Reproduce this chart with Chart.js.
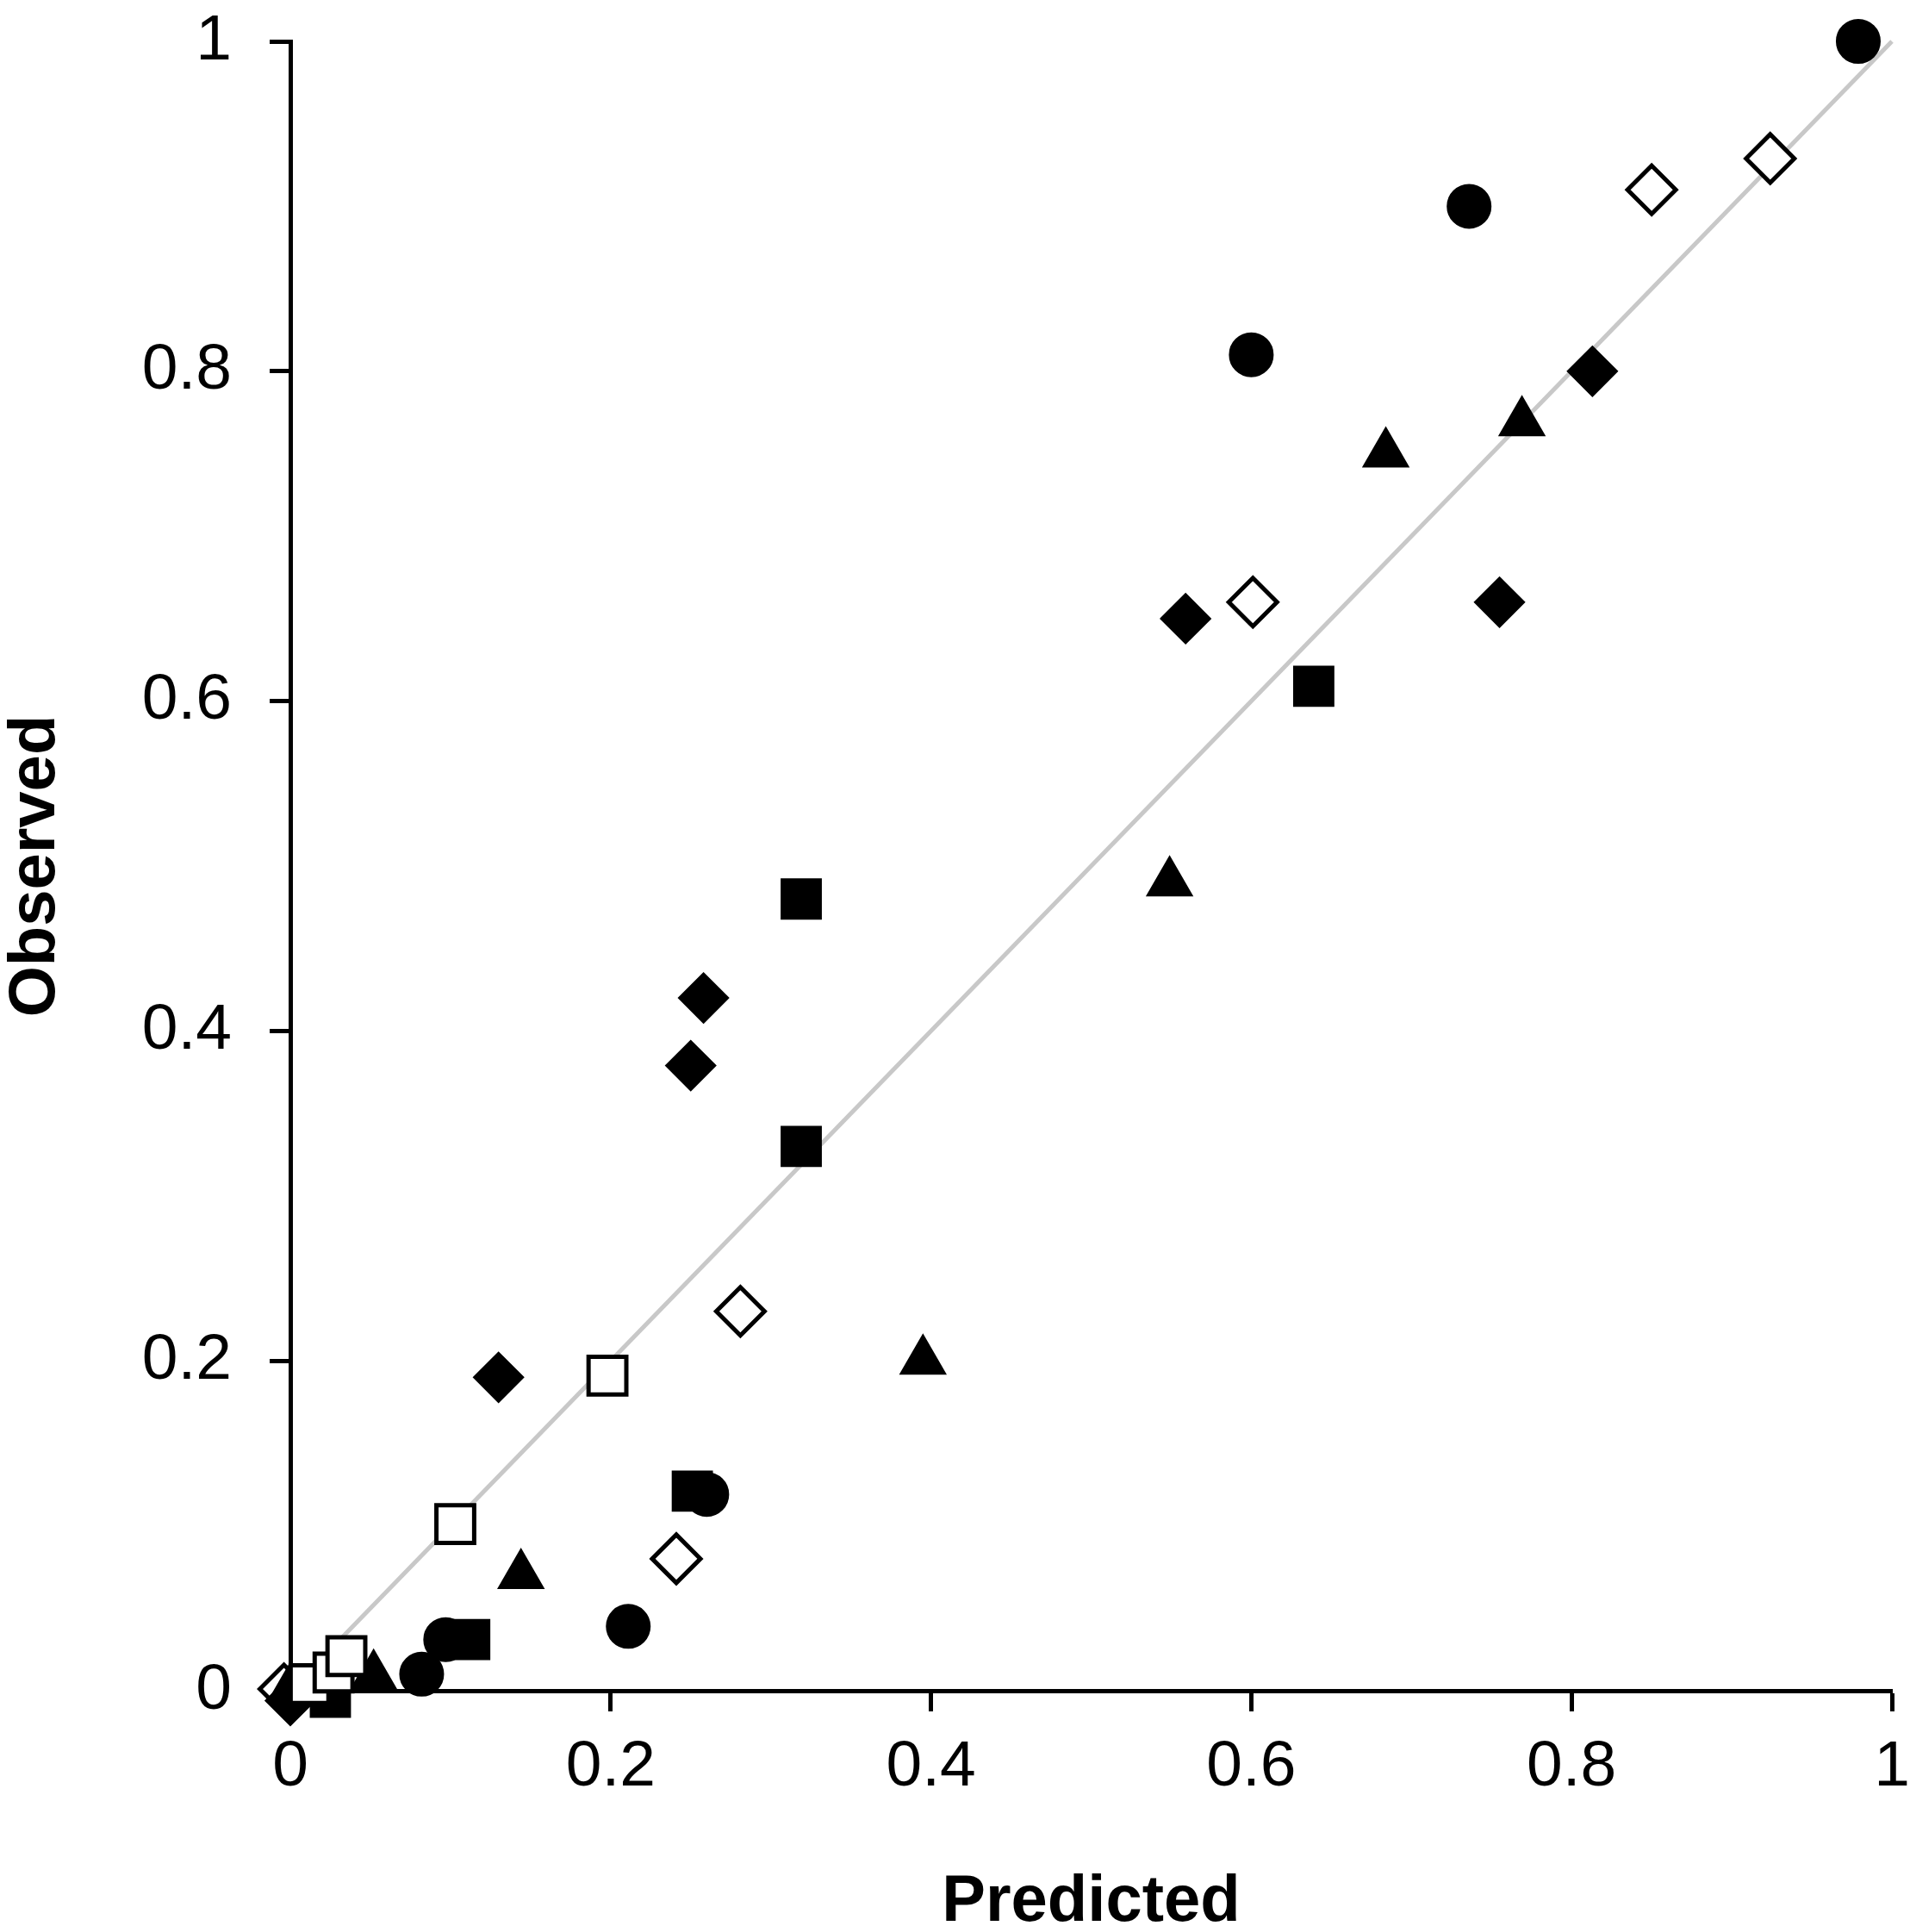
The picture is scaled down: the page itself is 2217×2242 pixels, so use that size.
<!DOCTYPE html>
<html>
<head>
<meta charset="utf-8">
<script src="https://cdn.jsdelivr.net/npm/chart.js@4.4.1/dist/chart.umd.min.js"></script>
<style>
  html, body { margin: 0; padding: 0; background: #fff; }
  canvas { display: block; }
</style>
</head>
<body>
<canvas id="grafica" width="2217" height="2242"></canvas>
<script>
const circuloX = [0.979, 0.736, 0.600, 0.260, 0.211, 0.082, 0.097];
const circuloY = [1.000, 0.900, 0.810, 0.119, 0.039, 0.010, 0.031];

const cuadradoX = [0.319, 0.319, 0.639, 0.251, 0.112, 0.025];
const cuadradoY = [0.480, 0.330, 0.609, 0.121, 0.031, -0.004];

const romboX = [0.813, 0.755, 0.559, 0.258, 0.250, 0.130, 0.000];
const romboY = [0.800, 0.660, 0.650, 0.420, 0.379, 0.190, -0.006];

const trianguloX = [0.769, 0.684, 0.549, 0.395, 0.144, 0.052, 0.000];
const trianguloY = [0.769, 0.750, 0.490, 0.200, 0.070, 0.009, 0.001];

const romboVacioX = [0.924, 0.850, 0.601, 0.281, 0.241, -0.004];
const romboVacioY = [0.929, 0.910, 0.660, 0.230, 0.080, 0.001];

const cuadradoVacioX = [0.198, 0.103, 0.012, 0.027, 0.035];
const cuadradoVacioY = [0.191, 0.101, 0.004, 0.011, 0.021];

const lineaX = [0, 1];
const lineaY = [0, 1];

const ticks = [0, 0.2, 0.4, 0.6, 0.8, 1];

function puntos(xs, ys) {
    return xs.map((x, i) => ({ x: x, y: ys[i] }));
}

const fuente = "'Liberation Sans', Arial, Helvetica, sans-serif";

var grafica = new Chart(document.getElementById('grafica'), {
    type: 'scatter',
    data: {
        datasets: [
            {
                label: 'cuadrado vacio',
                data: puntos(cuadradoVacioX, cuadradoVacioY),
                pointStyle: 'rect', pointRadius: 31,
                backgroundColor: '#fff', borderColor: '#000', borderWidth: 5,
                order: 1, clip: false
            },
            {
                label: 'cuadrado',
                data: puntos(cuadradoX, cuadradoY),
                pointStyle: 'rect', pointRadius: 31,
                backgroundColor: '#000', borderColor: '#000', borderWidth: 4,
                order: 2, clip: false
            },
            {
                label: 'triangulo',
                data: puntos(trianguloX, trianguloY),
                pointStyle: 'triangle', pointRadius: 29,
                backgroundColor: '#000', borderColor: '#000', borderWidth: 3,
                order: 3, clip: false
            },
            {
                label: 'rombo',
                data: puntos(romboX, romboY),
                pointStyle: 'rectRot', pointRadius: 28,
                backgroundColor: '#000', borderColor: '#000', borderWidth: 3,
                order: 4, clip: false
            },
            {
                label: 'circulo',
                data: puntos(circuloX, circuloY),
                pointStyle: 'circle', pointRadius: 25,
                backgroundColor: '#000', borderColor: '#000', borderWidth: 2,
                order: 5, clip: false
            },
            {
                label: 'rombo vacio',
                data: puntos(romboVacioX, romboVacioY),
                pointStyle: 'rectRot', pointRadius: 28,
                backgroundColor: '#fff', borderColor: '#000', borderWidth: 5,
                order: 6, clip: false
            },
            {
                type: 'line',
                label: 'y = x',
                data: puntos(lineaX, lineaY),
                borderColor: '#c8c8c8', borderWidth: 5,
                pointRadius: 0, showLine: true, fill: false,
                order: 10, clip: false
            }
        ]
    },
    options: {
        responsive: false,
        animation: false,
        devicePixelRatio: 1,
        layout: { autoPadding: false, padding: 0 },
        plugins: {
            legend: { display: false },
            tooltip: { enabled: false }
        },
        scales: {
            x: {
                type: 'linear',
                min: 0, max: 1,
                afterFit: (escala) => {
                    escala.height = 280;
                    escala.paddingRight = 21;
                    escala.paddingLeft = 0;
                },
                afterBuildTicks: (escala) => { escala.ticks = ticks.map(v => ({ value: v })); },
                grid: { drawOnChartArea: false, drawTicks: true, tickLength: 24, tickWidth: 5, tickColor: '#000' },
                border: { display: true, color: '#000', width: 5 },
                ticks: {
                    color: '#000', padding: 20,
                    font: { family: fuente, size: 75 },
                    maxRotation: 0,
                    callback: (v) => String(v)
                },
                title: {
                    display: true, text: 'Predicted', color: '#000',
                    font: { family: fuente, size: 76, weight: 'bold', lineHeight: 0.9 },
                    padding: 0
                }
            },
            y: {
                type: 'linear',
                min: 0, max: 1,
                afterFit: (escala) => {
                    escala.width = 337;
                    escala.paddingTop = 48;
                    escala.paddingBottom = 0;
                },
                afterBuildTicks: (escala) => { escala.ticks = ticks.map(v => ({ value: v })); },
                grid: { drawOnChartArea: false, drawTicks: true, tickLength: 24, tickWidth: 5, tickColor: '#000' },
                border: { display: true, color: '#000', width: 5 },
                ticks: {
                    color: '#000', padding: 44,
                    font: { family: fuente, size: 75 },
                    callback: (v) => String(v)
                },
                title: {
                    display: true, text: 'Observed', color: '#000',
                    font: { family: fuente, size: 76, weight: 'bold', lineHeight: 1.1 },
                    padding: 0
                }
            }
        }
    }
});
</script>
</body>
</html>
